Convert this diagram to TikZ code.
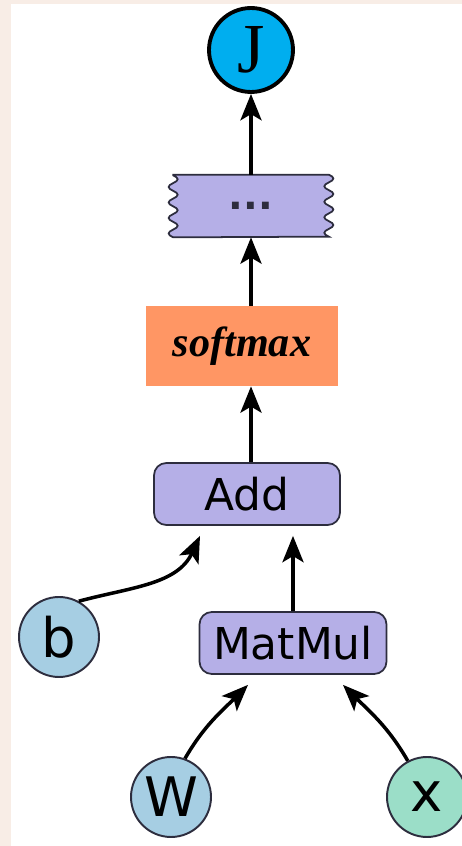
\documentclass[tikz,border=0pt]{standalone}
\usepackage{fontspec}
\setmainfont{Liberation Serif}
\newfontfamily\opfont{DejaVu Sans}
\usetikzlibrary{positioning,arrows.meta}

\definecolor{opfill}{RGB}{181,175,231}
\definecolor{opline}{RGB}{45,45,62}
\definecolor{varfill}{RGB}{166,206,227}
\definecolor{infill}{RGB}{155,222,200}
\definecolor{outfill}{RGB}{0,174,239}
\definecolor{softfill}{RGB}{255,150,100}
\definecolor{paper}{RGB}{248,237,230}

\tikzset{
  op/.style={rectangle, rounded corners=7pt, draw=opline, fill=opfill, line width=1pt,
    inner sep=0pt, minimum height=1.24cm, font=\opfont\fontsize{25}{30}\selectfont},
  var/.style={circle, draw=opline, fill=varfill, line width=1.1pt, inner sep=0pt,
    minimum size=1.6cm, font=\opfont\fontsize{31}{36}\selectfont},
  flow/.style={-{Stealth[length=15pt,width=12pt,inset=3.5pt]}, line width=2pt}
}

\begin{document}
\begin{tikzpicture}[x=0.02cm,y=0.02cm]
\def\xmid{251}
\def\ytop{796}
\def\yin{49}
\def\wc{6}
\def\wh{7.75}
\def\wt{2.6}

\useasboundingbox (0,0) rectangle (462,846);
\fill[paper] (0,0) rectangle (462,846);
\fill[white] (11,0) rectangle (462,842);

% nodes
\node[circle, draw=black, fill=outfill, line width=2.2pt, minimum size=1.68cm, inner sep=0pt,
  font=\fontsize{40}{46}\selectfont] (J) at (\xmid, \ytop) {J};
\node[minimum width=3.1cm, minimum height=1.24cm, inner sep=0pt] (dots) at (\xmid, 640) {};
\draw[draw=opline, fill=opfill, line width=1pt]
  (dots.north west) -- (dots.north east)
  \foreach \k in {1,...,4} {.. controls +(\wc,-\wt) and +(\wc,\wt) .. ++(0,-\wh)
    .. controls +(-\wc,-\wt) and +(-\wc,\wt) .. ++(0,-\wh)}
  -- (dots.south west)
  \foreach \k in {1,...,4} {.. controls +(-\wc,\wt) and +(-\wc,-\wt) .. ++(0,\wh)
    .. controls +(\wc,\wt) and +(\wc,-\wt) .. ++(0,\wh)}
  -- cycle;
\node[font=\opfont\bfseries\fontsize{22}{26}\selectfont, text=opline] (dotstext) at (dots) {...};
\node[fill=softfill, minimum width=3.84cm, minimum height=1.6cm, inner sep=0pt,
  font=\bfseries\itshape\fontsize{24}{28}\selectfont] (softmax) at (242, 500) {softmax\hspace{0.25cm}};
\node[op, minimum width=3.72cm] (add) at (247, 352) {Add};
\node[op, minimum width=3.74cm] (matmul) at (293, 203) {MatMul};
\node[var] (b) at (59, 209) {b};
\node[var] (W) at (171, \yin) {W};
\node[var, fill=infill] (x) at (427, \yin) {x};

\coordinate (addleft) at ([xshift=-0.94cm, yshift=-0.2cm]add.south);
\coordinate (addright) at ([xshift=0.92cm, yshift=-0.2cm]add.south);
\coordinate (mmleft) at ([xshift=-0.9cm, yshift=-0.2cm]matmul.south);
\coordinate (mmright) at ([xshift=1cm, yshift=-0.2cm]matmul.south);

% edges
\draw[flow] (dots.north) -- (J.south);
\draw[flow] (dots.south |- softmax.north) -- (dots.south);
\draw[flow] (dots.south |- add.north) -- (dots.south |- softmax.south);
\draw[flow] (matmul.north) -- (addright);
\draw[flow] (b.61) to [out=15, in=-115] (addleft);
\draw[flow] (W.70) to [out=60, in=-135] (mmleft);
\draw[flow] (x.118) to [out=120, in=-45] (mmright);

\end{tikzpicture}
\end{document}
